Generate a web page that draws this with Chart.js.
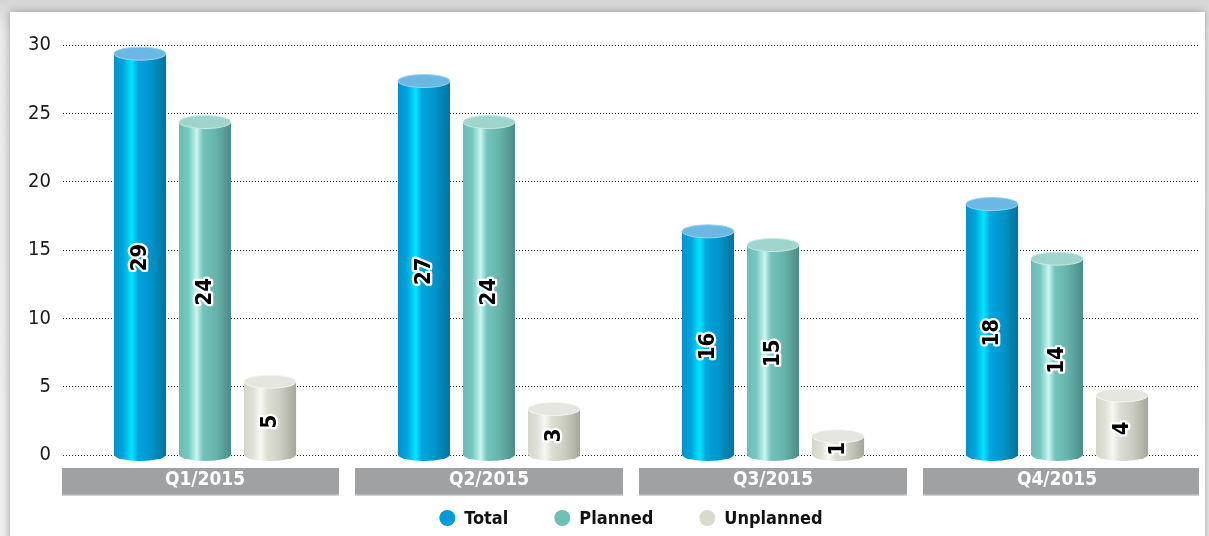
<!DOCTYPE html>
<html>
<head>
<meta charset="utf-8">
<title>Outages per quarter 2015</title>
<script src="https://cdn.jsdelivr.net/npm/chart.js@4.4.1/dist/chart.umd.min.js"></script>
<style>
  html, body { margin: 0; padding: 0; }
  body {
    width: 1209px; height: 536px; overflow: hidden; position: relative;
    background: linear-gradient(#d6d6d6, #ececec 30px, #f0f0f0);
  }
  .card {
    position: absolute; left: 10px; top: 12px; width: 1195px; height: 580px;
    background: #fff; box-shadow: 0 0 9px rgba(0, 0, 0, .35);
  }
  #chart { position: absolute; left: 0; top: 0; }
</style>
</head>
<body>
<div class="card"></div>
<canvas id="chart" width="1209" height="536"></canvas>
<script>
(function () {
    "use strict";

    // Data
    var quarters = ['Q1/2015', 'Q2/2015', 'Q3/2015', 'Q4/2015'];
    var seriesNames = ['Total', 'Planned', 'Unplanned'];
    var total = [29, 27, 16, 18];
    var planned = [24, 24, 15, 14];
    var unplanned = [5, 3, 1, 4];
    var yTicks = [0, 5, 10, 15, 20, 25, 30];

    var FONT = '"DejaVu Sans Condensed", "Liberation Sans Narrow", sans-serif';

    // Cylinder shading, one entry per series
    var shades = [
        {
            legend: '#009ad8',
            cap: '#6cb8e4', rim: '#9fd2f0',
            body: [[0, '#0092cc'], [0.18, '#00a6dc'], [0.34, '#00e6ff'], [0.46, '#00a4dc'], [0.7, '#0096cc'], [1, '#00739c']]
        },
        {
            legend: '#6cc0b8',
            cap: '#9fd5cc', rim: '#c4ebe4',
            body: [[0, '#68bcb4'], [0.18, '#78c8c0'], [0.34, '#c8f6f0'], [0.46, '#74c4bc'], [0.7, '#66b4aa'], [1, '#4c8c86']]
        },
        {
            legend: '#d8dace',
            cap: '#e4e6df', rim: '#f4f5f0',
            body: [[0, '#d4d6ca'], [0.18, '#e0e2d8'], [0.32, '#f8f8f3'], [0.46, '#dcded4'], [0.7, '#cccec2'], [1, '#a4a69a']]
        }
    ];

    // Grey category boxes under the plot (drawn before the tick labels)
    var categoryBoxes = {
        id: 'categoryBoxes',
        beforeDraw: function (chart) {
            var ctx = chart.ctx, xs = chart.scales.x;
            var n = quarters.length, w = (xs.right - xs.left) / n;
            var top = xs.top + 13, h = 28;
            ctx.save();
            for (var i = 0; i < n; i++) {
                var l = xs.left + i * w + (i > 0 ? 8 : -1);
                var r = xs.left + (i + 1) * w - (i < n - 1 ? 8 : 0);
                ctx.fillStyle = '#a0a1a3';
                ctx.fillRect(l, top, r - l, h);
                ctx.fillStyle = '#cfd0d2';
                ctx.fillRect(l, top + h - 1.5, r - l, 1.5);
            }
            ctx.restore();
        }
    };

    // 3D cylinders on top of the bar elements, with rotated value labels
    var cylinders = {
        id: 'cylinders',
        afterDatasetsDraw: function (chart) {
            var ctx = chart.ctx;
            var ry = 6.5;
            ctx.save();
            chart.data.datasets.forEach(function (ds, i) {
                var st = shades[i];
                chart.getDatasetMeta(i).data.forEach(function (bar) {
                    var p = bar.getProps(['x', 'y', 'base', 'width'], true);
                    var rx = p.width / 2, left = p.x - rx, right = p.x + rx;
                    var top = p.y - 5;
                    var g = ctx.createLinearGradient(left, 0, right, 0);
                    st.body.forEach(function (s) { g.addColorStop(s[0], s[1]); });
                    ctx.beginPath();
                    ctx.moveTo(left, top);
                    ctx.lineTo(left, p.base);
                    ctx.ellipse(p.x, p.base, rx, ry, 0, Math.PI, 0, true);
                    ctx.lineTo(right, top);
                    ctx.closePath();
                    ctx.fillStyle = g;
                    ctx.fill();

                    ctx.beginPath();
                    ctx.ellipse(p.x, top, rx, ry, 0, 0, Math.PI * 2);
                    ctx.fillStyle = st.cap;
                    ctx.fill();
                    ctx.lineWidth = 1;
                    ctx.strokeStyle = st.rim;
                    ctx.stroke();
                });
            });

            ctx.font = 'bold 22px ' + FONT;
            ctx.textAlign = 'center';
            ctx.textBaseline = 'middle';
            ctx.lineJoin = 'round';
            chart.data.datasets.forEach(function (ds, i) {
                chart.getDatasetMeta(i).data.forEach(function (bar, j) {
                    var p = bar.getProps(['x', 'y', 'base'], true);
                    var txt = String(ds.data[j]);
                    ctx.save();
                    ctx.translate(p.x, (p.y + p.base) / 2 + 1);
                    ctx.rotate(-Math.PI / 2);
                    ctx.lineWidth = 4.5;
                    ctx.strokeStyle = '#fff';
                    ctx.strokeText(txt, 0, 0);
                    ctx.fillStyle = '#000';
                    ctx.fillText(txt, 0, 0);
                    ctx.restore();
                });
            });
            ctx.restore();
        }
    };

    // Legend row with round markers
    var dotLegend = {
        id: 'dotLegend',
        afterDraw: function (chart) {
            var ctx = chart.ctx, ca = chart.chartArea;
            var y = 518, dot = 16, gap = 9, spacing = 46;
            ctx.save();
            ctx.font = 'bold 18px ' + FONT;
            ctx.textBaseline = 'middle';
            ctx.textAlign = 'left';
            var items = chart.data.datasets.map(function (ds, i) {
                return { text: ds.label, color: shades[i].legend, w: ctx.measureText(ds.label).width };
            });
            var full = items.reduce(function (s, it) { return s + dot + gap + it.w; }, 0) + spacing * (items.length - 1);
            var x = (ca.left + ca.right) / 2 - full / 2;
            items.forEach(function (it) {
                ctx.beginPath();
                ctx.arc(x + dot / 2, y, dot / 2, 0, Math.PI * 2);
                ctx.fillStyle = it.color;
                ctx.fill();
                ctx.fillStyle = '#111';
                ctx.fillText(it.text, x + dot + gap, y + 1);
                x += dot + gap + it.w + spacing;
            });
            ctx.restore();
        }
    };

    var ctx1 = document.getElementById('chart').getContext('2d');
    var myChart = new Chart(ctx1, {
        type: 'bar',
        data: {
            labels: quarters,
            datasets: [
                { label: seriesNames[0], data: total, backgroundColor: shades[0].legend },
                { label: seriesNames[1], data: planned, backgroundColor: shades[1].legend },
                { label: seriesNames[2], data: unplanned, backgroundColor: shades[2].legend }
            ]
        },
        options: {
            responsive: false,
            animation: false,
            categoryPercentage: 0.687,
            barPercentage: 0.8,
            layout: { padding: { top: 45, right: 10, left: 0, bottom: 0 } },
            plugins: {
                legend: { display: false },
                tooltip: { enabled: false }
            },
            scales: {
                x: {
                    grid: { display: false, drawTicks: false },
                    border: { display: false },
                    ticks: {
                        color: '#fff',
                        padding: 14,
                        font: { family: FONT, size: 19, weight: 'bold' }
                    },
                    afterFit: function (scale) { scale.height = 81; }
                },
                y: {
                    min: yTicks[0],
                    max: yTicks[yTicks.length - 1],
                    grid: {
                        color: '#333',
                        lineWidth: 1,
                        drawTicks: false
                    },
                    border: { display: false, dash: [1, 2] },
                    ticks: {
                        stepSize: yTicks[1] - yTicks[0],
                        color: '#1a1a1a',
                        padding: 12,
                        font: { family: FONT, size: 20 }
                    },
                    afterFit: function (scale) { scale.width = 63; }
                }
            }
        },
        plugins: [categoryBoxes, cylinders, dotLegend]
    });
})();
</script>
</body>
</html>
